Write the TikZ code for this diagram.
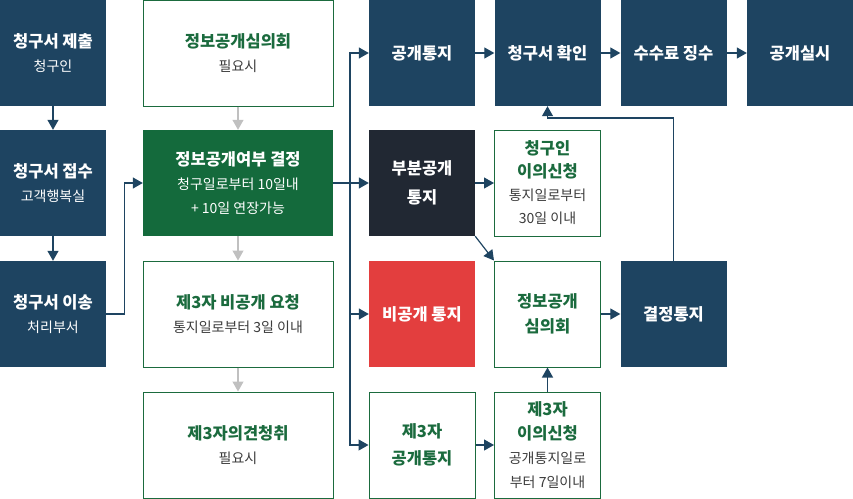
\documentclass[tikz,border=0pt]{standalone}
\usepackage{fontspec}
\setmainfont{Noto Sans CJK KR}
\usepackage{tikz}
\usetikzlibrary{positioning,arrows.meta}
\definecolor{civnavy}{HTML}{1E4461}
\definecolor{civgreen}{HTML}{146A3C}
\definecolor{civline}{HTML}{1B6B3E}
\definecolor{civred}{HTML}{E33E3E}
\definecolor{civdark}{HTML}{212833}
\definecolor{civgrey}{HTML}{C0C0C0}
\definecolor{civtext}{HTML}{3C3C3C}
\newcommand{\ttl}[1]{{\fontsize{16.5}{24}\selectfont\bfseries #1}}

\begin{document}
\begin{tikzpicture}[x=1pt,y=-1pt,
  box/.style={minimum width=106pt,minimum height=106pt,inner sep=0pt,align=center,font=\fontsize{14}{24}\selectfont},
  navybox/.style={box,fill=civnavy,text=white},
  greenbox/.style={box,fill=civgreen,text=white},
  redbox/.style={box,fill=civred,text=white},
  darkbox/.style={box,fill=civdark,text=white},
  wbox/.style={box,draw=civline,line width=1pt,fill=white,text=civtext},
  flow/.style={draw=civnavy,line width=1.2pt,-{Triangle[length=10pt,width=11pt]}},
  soft/.style={draw=civgrey,line width=1.2pt,-{Triangle[length=10pt,width=11pt]}}
]
\useasboundingbox (0,0) rectangle (853,498);
\node[navybox] (submit) at (53,53) {\ttl{청구서 제출}\\청구인};
\node[navybox] (receive) at (53,183) {\ttl{청구서 접수}\\고객행복실};
\node[navybox] (transfer) at (53,314) {\ttl{청구서 이송}\\처리부서};
\node[wbox,minimum width=190pt] (committee) at (238,53) {\ttl{\color{civline}정보공개심의회}\\필요시};
\node[greenbox,minimum width=190pt] (decide) at (238,183) {\ttl{정보공개여부 결정}\\청구일로부터 10일내\\+ 10일 연장가능};
\node[wbox,minimum width=190pt] (tpreq) at (238,314) {\ttl{\color{civline}제3자 비공개 요청}\\통지일로부터 3일 이내};
\node[wbox,minimum width=190pt] (tpopinion) at (238,445) {\ttl{\color{civline}제3자의견청취}\\필요시};
\node[navybox] (open) at (422,53) {\ttl{공개통지}};
\node[navybox] (confirm) at (547.5,53) {\ttl{청구서 확인}};
\node[navybox] (fee) at (673.5,53) {\ttl{수수료 징수}};
\node[navybox] (disclose) at (800,53) {\ttl{공개실시}};
\node[darkbox,font=\fontsize{14}{29}\selectfont] (partial) at (422,183) {\ttl{부분공개}\\\ttl{통지}};
\node[wbox,font=\fontsize{14}{23}\selectfont] (objection) at (547.5,183) {\ttl{\color{civline}청구인}\\\ttl{\color{civline}이의신청}\\통지일로부터\\30일 이내};
\node[redbox] (reject) at (422,314) {\ttl{비공개 통지}};
\node[wbox,font=\fontsize{14}{25}\selectfont] (council) at (547.5,314) {\ttl{\color{civline}정보공개}\\\ttl{\color{civline}심의회}};
\node[navybox] (notify) at (673.5,314) {\ttl{결정통지}};
\node[wbox,font=\fontsize{14}{27}\selectfont] (tpnotice) at (422,445) {\ttl{\color{civline}제3자}\\\ttl{\color{civline}공개통지}};
\node[wbox,font=\fontsize{14}{24}\selectfont] (tpobject) at (547.5,445) {\ttl{\color{civline}제3자}\\\ttl{\color{civline}이의신청}\\공개통지일로\\부터 7일이내};
\coordinate (trunk) at (350,183);
\coordinate (loop) at (673.5,118);
\draw[flow] (submit) -- (receive);
\draw[flow] (receive) -- (transfer);
\draw[flow] (transfer.east) -- ++(18,0) |- (decide.west);
\draw[soft] (committee) -- (decide);
\draw[soft] (decide) -- (tpreq);
\draw[soft] (tpreq) -- (tpopinion);
\draw[flow] (decide) -- (partial);
\draw[flow] (trunk) |- (open.west);
\draw[flow] (trunk) |- (reject.west);
\draw[flow] (trunk) |- (tpnotice.west);
\draw[flow] (open) -- (confirm);
\draw[flow] (confirm) -- (fee);
\draw[flow] (fee) -- (disclose);
\draw[flow] (partial) -- (objection);
\draw[flow] (partial.south east) -- (council.north west);
\draw[flow] (council) -- (notify);
\draw[flow] (notify.north) -- (loop) -| (confirm.south);
\draw[flow] (tpnotice) -- (tpobject);
\draw[flow] (tpobject) -- (council);
\end{tikzpicture}
\end{document}
